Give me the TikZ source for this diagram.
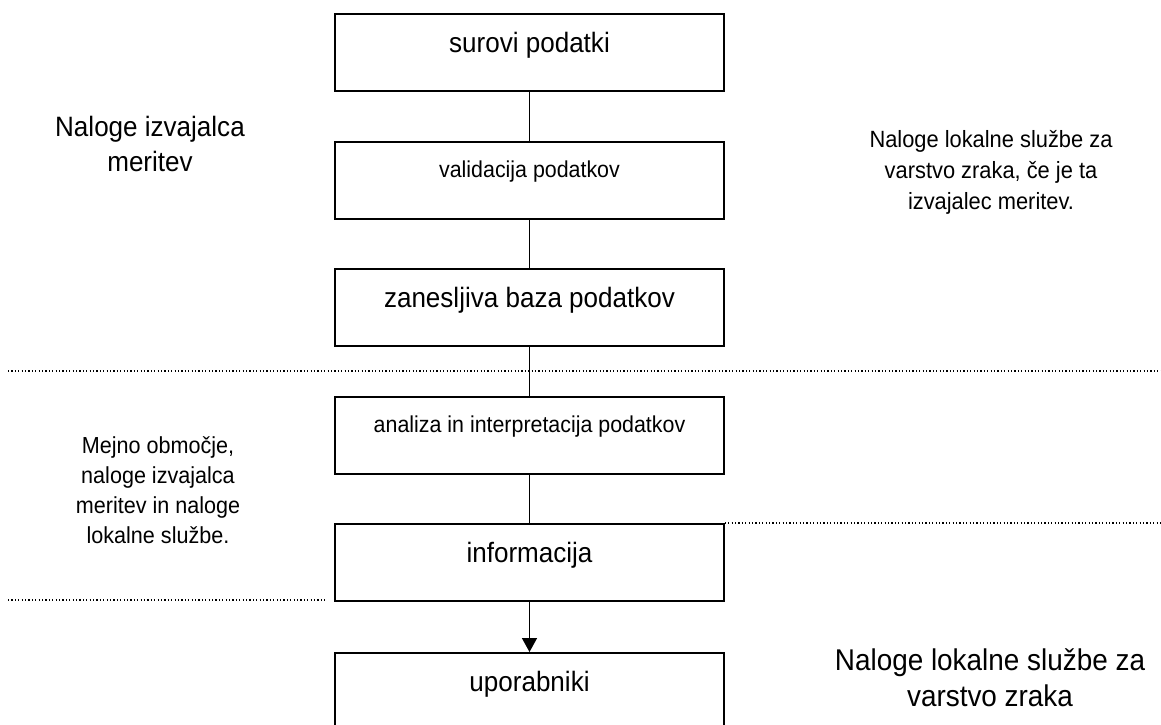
\documentclass[tikz,border=0pt]{standalone}
\usepackage{fontspec}
\setmainfont{Liberation Sans}[FakeStretch=0.93]
\usetikzlibrary{arrows.meta}

\tikzset{
  stage/.style={draw=black, line width=1.6pt, inner sep=0pt,
    minimum width=389pt, text depth=77pt-#1, text height=#1,
    font=\fontsize{28}{32}\selectfont},
  stage/.default=39pt,
  smallstage/.style={stage=36pt, font=\fontsize{23}{26}\selectfont},
  link/.style={line width=1.5pt},
  boundary/.style={line width=1.2pt, dash pattern=on 1.2pt off 2.2pt},
  note/.style={align=center, inner sep=0pt},
}

\begin{document}
\begin{tikzpicture}[x=1pt, y=-1pt]
  \clip (0,0) rectangle (1161,724);
  \fill[white] (0,0) rectangle (1161,724);

  % flow of data, one stage per box
  \node[stage, anchor=north] (raw)   at (529.5,13)  {surovi podatki};
  \node[smallstage, anchor=north] (valid) at (529.5,141) {validacija podatkov};
  \node[stage, anchor=north] (base)  at (529.5,268) {zanesljiva baza podatkov};
  \node[smallstage, anchor=north] (anal)  at (529.5,396) {analiza in interpretacija podatkov};
  \node[stage, anchor=north] (info)  at (529.5,523) {informacija};
  \node[stage, anchor=north] (users) at (529.5,652) {uporabniki};

  \draw[link] (raw)  -- (valid);
  \draw[link] (valid) -- (base);
  \draw[link] (base) -- (anal);
  \draw[link] (anal) -- (info);
  \draw[link, -{Triangle[width=15pt,length=14pt]}] (info) -- (users);

  % area boundaries
  \coordinate (b1w) at (8,371);
  \coordinate (b1e) at (1161,371);
  \coordinate (b2e) at (1161,523);
  \coordinate (b3w) at (8,600);
  \coordinate (b3e) at (327,600);
  \draw[boundary] (b1w) -- (b1e);
  \draw[boundary] (info.north east) -- (b2e);
  \draw[boundary] (b3w) -- (b3e);

  % area descriptions (anchored at the baseline of the last line)
  \node[note, anchor=base, font=\fontsize{28}{35}\selectfont] (measurer) at (150,171)
    {Naloge izvajalca\\meritev};
  \node[note, anchor=base, font=\fontsize{23.5}{31}\selectfont] (localif) at (991,209)
    {Naloge lokalne službe za\\varstvo zraka, če je ta\\izvajalec meritev.};
  \node[note, anchor=base, font=\fontsize{23.2}{30}\selectfont] (border) at (158,543)
    {Mejno območje,\\naloge izvajalca\\meritev in naloge\\lokalne službe.};
  \node[note, anchor=base, font=\fontsize{30}{36}\selectfont] (local) at (990,706)
    {Naloge lokalne službe za\\varstvo zraka};
\end{tikzpicture}
\end{document}
